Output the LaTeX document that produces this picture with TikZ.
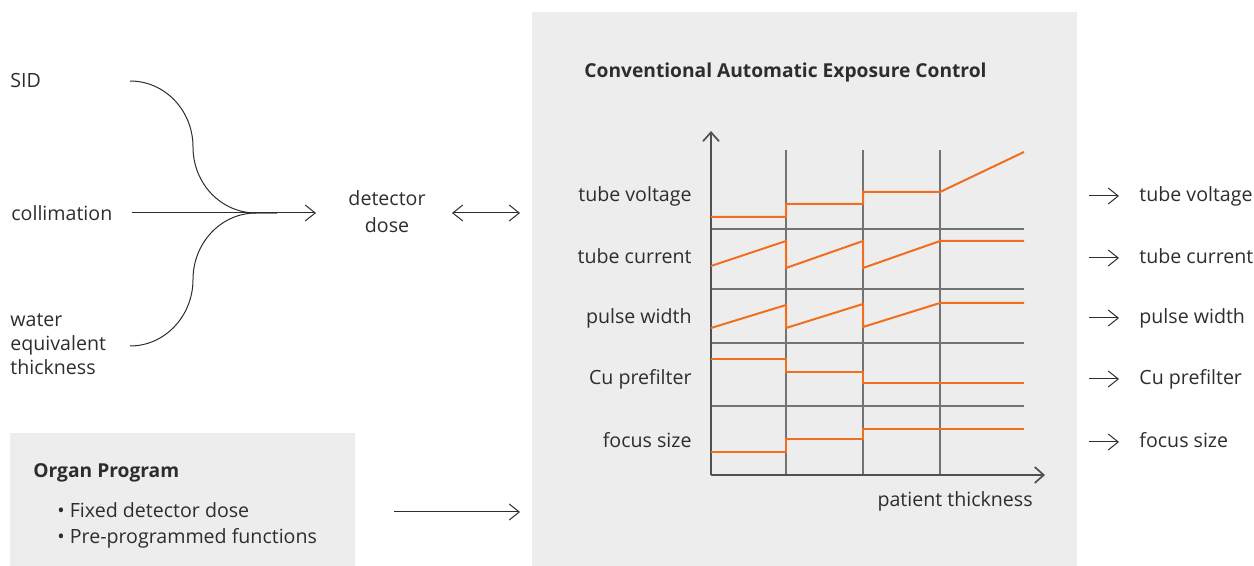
\documentclass[tikz,border=0pt]{standalone}
\usepackage{fontspec}
\setmainfont{Open Sans}
\usetikzlibrary{arrows.meta,positioning}

\definecolor{aecgrey}{RGB}{237,237,237}
\definecolor{aectext}{RGB}{45,45,45}
\definecolor{aecaxis}{RGB}{80,80,80}
\definecolor{aecgrid}{RGB}{115,115,115}
\definecolor{aecorange}{RGB}{240,110,30}

\tikzset{
  lbl/.style={text=aectext, inner sep=0pt, font=\fontsize{9.8}{12}\selectfont},
  head/.style={lbl, font=\fontsize{9.6}{12}\selectfont\bfseries},
  wire/.style={draw=aectext, line width=0.5pt},
  flow/.style={wire, -{Straight Barb[length=5pt,width=8pt]}},
  twoway/.style={wire, {Straight Barb[length=5pt,width=8pt]}-{Straight Barb[length=5pt,width=8pt]}},
  axisline/.style={draw=aecaxis, line width=0.85pt, -{Straight Barb[length=4.5pt,width=8pt]}},
  gridline/.style={draw=aecgrid, line width=0.75pt},
  trace/.style={draw=aecorange, line width=1pt},
}

\begin{document}
\begin{tikzpicture}[x=0.5pt, y=-0.5pt]
  \useasboundingbox (0,0) rectangle (1254,566);
  % grey panels
  \fill[aecgrey] (532,12) rectangle (1077,566);
  \fill[aecgrey] (10,433) rectangle (355,566);

  % inputs on the left
  \node[lbl, anchor=base west] (sid) at (10,88) {SID};
  \node[lbl, anchor=base west] (colli) at (11,221) {collimation};
  \node[lbl, anchor=base west, align=left] (water) at (10,375)
    {water\\equivalent\\thickness};
  \coordinate (sidend) at (130,81);
  \coordinate (waterend) at (130,346);
  \coordinate (collend) at (132,213);
  \coordinate (merge) at (256,213);
  \coordinate (doseend) at (316,213);
  \draw[wire] (sidend) .. controls +(35,0) and +(0,-36.5) .. (193,147)
    .. controls +(0,36.5) and +(-35,0) .. (merge) -- +(21,0);
  \draw[wire] (waterend) .. controls +(35,0) and +(0,36.5) .. (193,279.5)
    .. controls +(0,-36.5) and +(-35,0) .. (merge) -- +(21,0);
  \draw[flow] (collend) -- (doseend);

  \node[lbl, anchor=base, align=center, font=\fontsize{9.8}{13.5}\selectfont]
    (dose) at (387,233) {detector\\dose};
  \coordinate (dosel) at (452,213);
  \coordinate (aecin) at (520,213);
  \draw[twoway] (dosel) -- (aecin);

  % conventional AEC chart
  \node[head, anchor=base west] (aec) at (584,78)
    {Conventional Automatic Exposure Control};
  \foreach \x in {786,863,940}
    \draw[gridline] (\x,150) -- (\x,475);
  \foreach \y in {229,289,343,406}
    \draw[gridline] (711,\y) -- (1024,\y);
  \coordinate (origin) at (711,475);
  \draw[axisline] (origin) -- (711,131);
  \draw[axisline] (origin) -- (1045,475);
  \node[lbl, anchor=base east] (thick) at (1033,507) {patient thickness};

  \draw[trace] (711,217) -| (786,204) -| (863,192) -- (940,192) -- (1024,152);
  \draw[trace] (711,266) -- (786,241) -- (786,268) -- (863,241) -- (863,268)
    -- (940,241) -- (1024,241);
  \draw[trace] (711,328) -- (786,305) -- (786,328) -- (863,304) -- (863,327)
    -- (940,303) -- (1024,303);
  \draw[trace] (711,359) -| (786,372) -| (863,383) -- (1024,383);
  \draw[trace] (711,452) -| (786,439) -| (863,429) -- (1024,429);

  \foreach \lab/\yc [count=\i] in {tube voltage/196, tube current/258,
      pulse width/318, Cu prefilter/379, focus size/442}
  {
    \node[lbl, anchor=base east] (par\i) at (692,\yc+6) {\lab};
    \node[lbl, anchor=base west] (res\i) at (1139,\yc+6) {\lab};
    \coordinate (tail\i) at (1089,\yc);
    \draw[flow, shorten >=10pt] (tail\i) -- (tail\i -| res\i.west);
  }

  % organ program
  \node[head, anchor=base west] (organ) at (33,478) {Organ Program};
  \node[lbl, anchor=base west, align=left, font=\fontsize{9.8}{13}\selectfont]
    (prog) at (57,544) {• Fixed detector dose\\• Pre-programmed functions};
  \coordinate (progout) at (394,512);
  \coordinate (aecprog) at (520,512);
  \draw[flow] (progout) -- (aecprog);
\end{tikzpicture}
\end{document}
